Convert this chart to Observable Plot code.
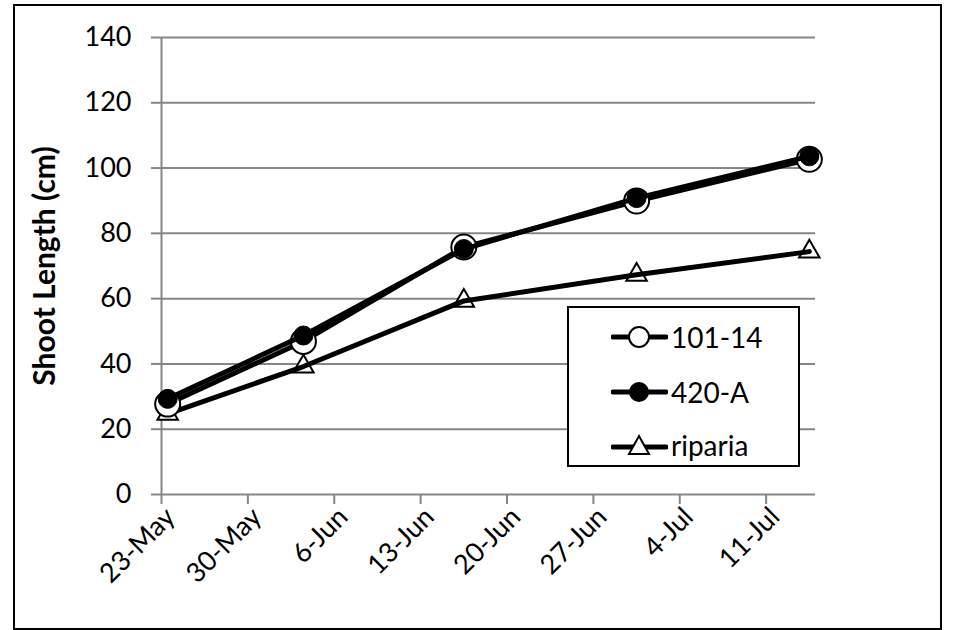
<!DOCTYPE html>
<html>
<head>
<meta charset="utf-8">
<script src="https://cdn.jsdelivr.net/npm/d3@7"></script>
<script src="https://cdn.jsdelivr.net/npm/@observablehq/plot@0.6"></script>
<style>
  html, body { margin: 0; padding: 0; background: #fff; }
  #wrap { position: relative; width: 954px; height: 630px; overflow: hidden; font-family: Lato, "Open Sans", sans-serif; }
  #wrap svg { position: absolute; left: 0; top: 0; }
  #frame { position: absolute; left: 13px; top: 4px; width: 929px; height: 626px; border: 2.5px solid #000; box-sizing: border-box; pointer-events: none; }
  #legend { position: absolute; left: 567px; top: 306px; width: 233px; height: 161px; border: 2px solid #000; background: #fff; box-sizing: border-box; }
  .row { position: absolute; left: 42px; display: flex; align-items: center; font-size: 28px; color: #000; }
  .row svg { position: static !important; margin-right: 3px; }
</style>
</head>
<body>
<div id="wrap"><div id="frame"></div></div>
<script>
// ---- data ----
const dates = ["2013-05-23", "2013-06-03", "2013-06-16", "2013-06-30", "2013-07-14"];
const series = ["101-14", "420-A", "riparia"];
const v101_14 = [27.7, 46.9, 75.8, 89.9, 102.7];
const v420A = [29.3, 48.7, 75.2, 90.8, 103.6];
const vRiparia = [24.7, 39.2, 59.3, 67.3, 74.4];
const xTickLabels = ["23-May", "30-May", "6-Jun", "13-Jun", "20-Jun", "27-Jun", "4-Jul", "11-Jul"];
const yTicks = [0, 20, 40, 60, 80, 100, 120, 140];
const xDomain = ["2013-05-23", "2013-07-15"];
const yLabel = "Shoot Length (cm)";

const parse = d3.utcParse("%Y-%m-%d");
const fmt = d3.utcFormat("%-d-%b");
const toRows = (vals, name) => dates.map((d, i) => ({date: parse(d), value: vals[i], series: name}));
const rows101 = toRows(v101_14, series[0]);
const rows420 = toRows(v420A, series[1]);
const rowsRip = toRows(vRiparia, series[2]);
// Excel date axis places points in the middle of the day slot
const xPos = d => d3.utcHour.offset(d.date, 12);
const xTicks = d3.utcDays(parse(xDomain[0]), parse(xDomain[1]), 7);

const grey = "#868686";
const chart = Plot.plot({
  width: 954,
  height: 630,
  marginLeft: 161,
  marginRight: 139,
  marginTop: 37,
  marginBottom: 136,
  style: {fontFamily: "Lato, 'Open Sans', sans-serif", fontSize: "27px", color: "#000", background: "transparent"},
  x: {type: "utc", domain: xDomain.map(parse)},
  y: {domain: [0, 140]},
  marks: [
    Plot.gridY(yTicks, {stroke: grey, strokeOpacity: 1, strokeWidth: 2}),
    Plot.ruleX([parse(xDomain[0])], {stroke: grey, strokeWidth: 2}),
    Plot.axisY(yTicks, {tickSize: 10, tickPadding: 20, stroke: grey, strokeWidth: 2, strokeOpacity: 1, fontSize: 27, fill: "#000",
      label: yLabel, labelAnchor: "center", labelArrow: "none", labelOffset: 128}),
    // tick marks only
    Plot.axisX(xTicks, {tickSize: 10, stroke: grey, strokeWidth: 2, strokeOpacity: 1, tickFormat: () => "", label: null}),
    // rotated tick labels
    Plot.axisX(xTicks, {tickSize: 0, tickPadding: 18, tickRotate: -45, dx: 9, dy: 0,
      tickFormat: (d, i) => xTickLabels[i] ?? fmt(d), fontSize: 27, fill: "#000", label: null}),
    Plot.dot(rowsRip, {x: xPos, y: "value", symbol: "triangle", r: 7.6, fill: "#fff", stroke: "#000", strokeWidth: 2}),
    Plot.line(rowsRip, {x: xPos, y: "value", stroke: "#000", strokeWidth: 5}),
    Plot.line(rows101, {x: xPos, y: "value", stroke: "#000", strokeWidth: 5}),
    Plot.dot(rows101, {x: xPos, y: "value", r: 12.5, fill: "#fff", stroke: "#000", strokeWidth: 2}),
    Plot.line(rows420, {x: xPos, y: "value", stroke: "#000", strokeWidth: 5}),
    Plot.dot(rows420, {x: xPos, y: "value", r: 9.5, fill: "#000", stroke: "#000", strokeWidth: 1})
  ]
});
chart.querySelectorAll("g[aria-label='y-axis label']").forEach(el => {
  el.setAttribute("font-weight", "bold");
  el.setAttribute("font-size", "30");
});
const wrap = document.getElementById("wrap");
wrap.insertBefore(chart, wrap.firstChild);

// ---- legend ----
const legend = document.createElement("div");
legend.id = "legend";
const markerSvg = {
  "101-14": '<circle cx="28" cy="14" r="10" fill="#fff" stroke="#000" stroke-width="2"/>',
  "420-A": '<circle cx="28" cy="14" r="10" fill="#000"/>',
  "riparia": '<path d="M28,5 L38,23 L18,23 Z" fill="#fff" stroke="#000" stroke-width="2"/>'
};
const rowTops = [12, 67, 120];
series.forEach((s, i) => {
  const r = document.createElement("div");
  r.className = "row";
  r.style.top = rowTops[i] + "px";
  const y = s === "riparia" ? 16 : 14;
  r.innerHTML = `<svg width="57" height="28" viewBox="0 0 57 28"><line x1="2" x2="55" y1="${y}" y2="${y}" stroke="#000" stroke-width="5" stroke-linecap="round"/>${markerSvg[s]}</svg><span>${s}</span>`;
  legend.appendChild(r);
});
wrap.appendChild(legend);
</script>
</body>
</html>
